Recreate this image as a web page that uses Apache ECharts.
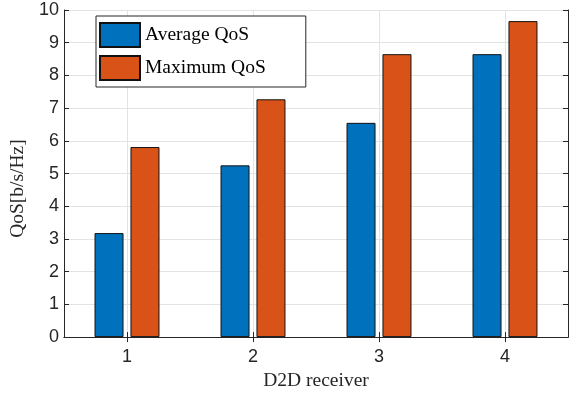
<!DOCTYPE html>
<html>
<head>
<meta charset="utf-8">
<script src="https://cdn.jsdelivr.net/npm/echarts@6/dist/echarts.min.js"></script>
<style>
  html, body { margin: 0; padding: 0; background: #fff; }
  #chart { width: 579px; height: 396px; }
</style>
</head>
<body>
<div id="chart"></div>
<script>
// D2D receivers on the x axis
const receivers = ['1', '2', '3', '4'];
// QoS values in b/s/Hz
const averageQoS = [3.18, 5.25, 6.55, 8.65];
const maximumQoS = [5.81, 7.27, 8.65, 9.66];
// y axis range and step
const yMin = 0;
const yMax = 10;
const yStep = 1;

const axisColor = '#262626';
const gridColor = '#e3e3e3';
const tickFont = 'Liberation Sans, Arial, sans-serif';
const serifFont = 'Liberation Serif, Times New Roman, serif';

// plot box
const plotLeft = 64, plotRight = 11, plotTop = 10, plotBottom = 56;
const plotWidth = 579 - plotLeft - plotRight;
const halfBand = plotWidth / receivers.length / 2;

const chart = echarts.init(document.getElementById('chart'), null, { renderer: 'canvas' });

const frameAxis = {
  axisLine: { show: true, lineStyle: { color: axisColor, width: 1 } },
  axisTick: { show: true, inside: true, length: 5, lineStyle: { color: axisColor } },
};

chart.setOption({
  animation: false,
  backgroundColor: '#fff',
  grid: [
    { left: plotLeft, right: plotRight, top: plotTop, bottom: plotBottom, containLabel: false, z: 2 },
    // spans first to last category centre; carries only the vertical grid lines
    { left: plotLeft + halfBand, right: plotRight + halfBand, top: plotTop, bottom: plotBottom, containLabel: false, z: 0 }
  ],
  legend: {
    orient: 'vertical',
    left: 96,
    top: 16,
    itemWidth: 40,
    itemHeight: 24,
    itemGap: 7,
    padding: [6, 40, 6, 3],
    borderColor: axisColor,
    borderWidth: 1,
    backgroundColor: '#fff',
    icon: 'rect',
    textStyle: { fontFamily: serifFont, fontSize: 19.5, color: '#000' },
    data: ['Average QoS', 'Maximum QoS'],
    z: 10
  },
  xAxis: [
    {
      type: 'category',
      gridIndex: 0,
      position: 'bottom',
      data: receivers,
      boundaryGap: true,
      ...frameAxis,
      axisTick: { show: true, inside: true, length: 5, alignWithLabel: true, lineStyle: { color: axisColor } },
      axisLabel: { fontFamily: tickFont, fontSize: 18, color: axisColor, margin: 11 },
      splitLine: { show: false },
      name: 'D2D receiver',
      nameLocation: 'middle',
      nameGap: 31,
      nameTextStyle: { fontFamily: serifFont, fontSize: 19.5, color: axisColor }
    },
    {
      type: 'category',
      gridIndex: 0,
      position: 'top',
      data: receivers,
      boundaryGap: true,
      ...frameAxis,
      axisTick: { show: true, inside: true, length: 5, alignWithLabel: true, lineStyle: { color: axisColor } },
      axisLabel: { show: false },
      splitLine: { show: false }
    },
    {
      type: 'value',
      gridIndex: 1,
      min: Number(receivers[0]),
      max: Number(receivers[receivers.length - 1]),
      interval: 1,
      axisLine: { show: false },
      axisTick: { show: false },
      axisLabel: { show: false },
      splitLine: { show: true, lineStyle: { color: gridColor, width: 1 } }
    }
  ],
  yAxis: [
    {
      type: 'value',
      gridIndex: 0,
      position: 'left',
      min: yMin,
      max: yMax,
      interval: yStep,
      ...frameAxis,
      axisLabel: { fontFamily: tickFont, fontSize: 18, color: axisColor, margin: 5 },
      splitLine: { show: true, lineStyle: { color: gridColor, width: 1 } },
      name: 'QoS[b/s/Hz]',
      nameLocation: 'middle',
      nameGap: 28,
      nameTextStyle: { fontFamily: serifFont, fontSize: 19.5, color: axisColor, padding: [0, 30, 0, 0] }
    },
    {
      type: 'value',
      gridIndex: 0,
      position: 'right',
      min: yMin,
      max: yMax,
      interval: yStep,
      ...frameAxis,
      axisLabel: { show: false },
      splitLine: { show: false }
    },
    {
      type: 'value',
      gridIndex: 1,
      min: yMin,
      max: yMax,
      interval: yStep,
      show: false,
      splitLine: { show: false }
    }
  ],
  series: [
    {
      name: 'Average QoS',
      type: 'bar',
      xAxisIndex: 0,
      yAxisIndex: 0,
      data: averageQoS,
      barWidth: 29,
      barGap: '24%',
      z: 3,
      itemStyle: { color: '#0072BD', borderColor: '#111', borderWidth: 1 }
    },
    {
      name: 'Maximum QoS',
      type: 'bar',
      xAxisIndex: 0,
      yAxisIndex: 0,
      data: maximumQoS,
      barWidth: 29,
      barGap: '24%',
      z: 3,
      itemStyle: { color: '#D95319', borderColor: '#111', borderWidth: 1 }
    }
  ]
});
</script>
</body>
</html>
